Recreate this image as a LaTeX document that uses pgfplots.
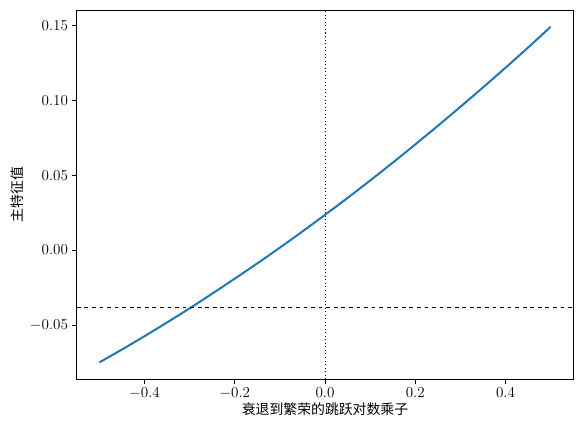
\documentclass[border=0pt]{standalone}
\usepackage{fontspec}
\usepackage{pgfplots}
\pgfplotsset{compat=1.18}
\newfontfamily\cjk{Noto Sans CJK SC}
\definecolor{mplblue}{HTML}{1F77B4}
\begin{document}
\begin{tikzpicture}
\begin{axis}[
  name=ax,
  scale only axis,
  width=394pt, height=293pt,
  xmin=-0.55, xmax=0.55,
  ymin=-0.0862, ymax=0.1602,
  xtick={-0.4,-0.2,0,0.2,0.4},
  ytick={-0.05,0,0.05,0.1,0.15},
  yticklabel style={/pgf/number format/.cd,fixed,fixed zerofill,precision=2},
  xticklabel style={/pgf/number format/.cd,fixed,fixed zerofill,precision=1},
  scaled y ticks=false,
  tick align=outside,
  tick pos=left,
  major tick length=3.5pt,
  tick style={black, line width=0.6pt},
  axis line style={line width=0.6pt},
  tick label style={font=\fontsize{12.5}{14}\selectfont},
  xlabel={\cjk 衰退到繁荣的跳跃对数乘子},
  ylabel={\cjk 主特征值},
  label style={font=\fontsize{11}{13}\selectfont},
  xlabel style={yshift=4pt},
  ylabel style={yshift=-2pt},
]
\addplot[mplblue, line width=1.6pt, smooth] coordinates {
(-0.5,-0.0750) (-0.45,-0.0664) (-0.4,-0.0575) (-0.35,-0.0483) (-0.3,-0.0389)
(-0.25,-0.0291) (-0.2,-0.0191) (-0.15,-0.0089) (-0.1,0.0016) (-0.05,0.0124)
(0,0.0235) (0.05,0.0348) (0.1,0.0464) (0.15,0.0583) (0.2,0.0705)
(0.25,0.0829) (0.3,0.0956) (0.35,0.1085) (0.4,0.1217) (0.45,0.1352) (0.5,0.1490)
};
\addplot[black, dashed, line width=0.8pt] coordinates {(-0.55,-0.0385) (0.55,-0.0385)};
\addplot[black, dotted, line width=0.8pt] coordinates {(0,-0.0862) (0,0.1602)};
\end{axis}
\path ([shift={(-61pt,-43pt)}]ax.south west) rectangle ([shift={(7pt,8pt)}]ax.north east);
\end{tikzpicture}
\end{document}
